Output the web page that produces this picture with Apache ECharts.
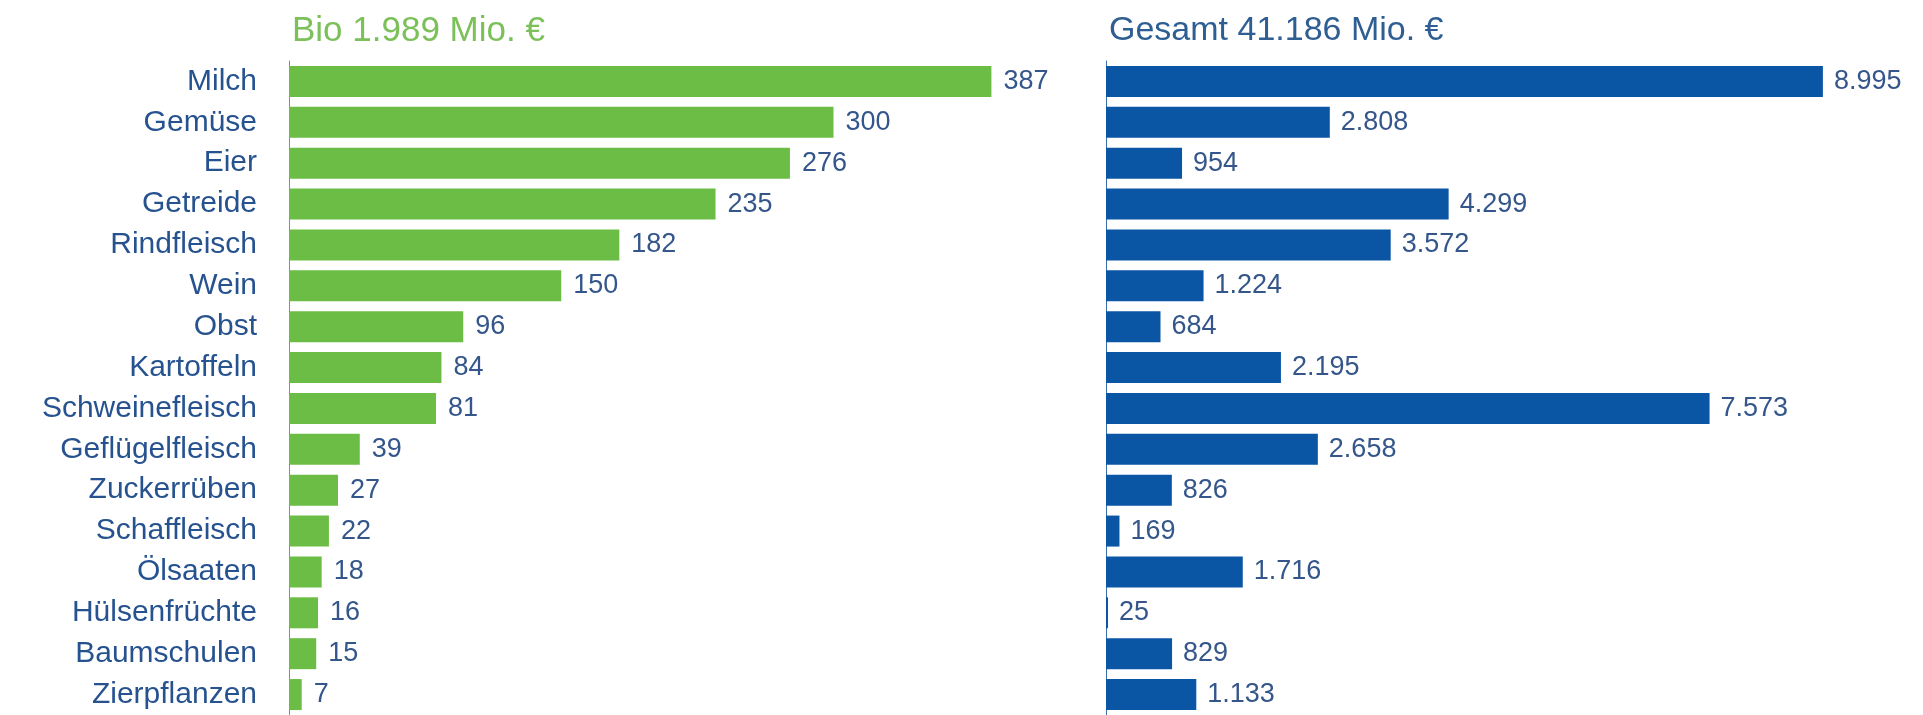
<!DOCTYPE html>
<html>
<head>
<meta charset="utf-8">
<script src="https://cdn.jsdelivr.net/npm/echarts@6/dist/echarts.min.js"></script>
<style>
html,body{margin:0;padding:0;background:#fff;}
#main{width:1923px;height:715px;}
</style>
</head>
<body>
<div id="main"></div>
<script>
const categories = ["Milch","Gemüse","Eier","Getreide","Rindfleisch","Wein","Obst","Kartoffeln","Schweinefleisch","Geflügelfleisch","Zuckerrüben","Schaffleisch","Ölsaaten","Hülsenfrüchte","Baumschulen","Zierpflanzen"];
const bioValues = [387,300,276,235,182,150,96,84,81,39,27,22,18,16,15,7];
const gesamtValues = [8995,2808,954,4299,3572,1224,684,2195,7573,2658,826,169,1716,25,829,1133];
const titleBio = "Bio 1.989 Mio. €";
const titleGesamt = "Gesamt 41.186 Mio. €";

const FONT = "'Liberation Sans', Arial, sans-serif";
const fmt = v => String(v).replace(/\B(?=(\d{3})+(?!\d))/g, '.');

const chart = echarts.init(document.getElementById('main'));
chart.setOption({
  animation: false,
  backgroundColor: '#ffffff',
  title: [
    {text: titleBio, left: 287, top: 9, textStyle:{color:'#7cc05a', fontSize:35, fontWeight:'normal', fontFamily:FONT}},
    {text: titleGesamt, left: 1104, top: 9, textStyle:{color:'#2e5e92', fontSize:34, fontWeight:'normal', fontFamily:FONT}}
  ],
  grid: [
    {left: 289, top: 61, width: 726, height: 656},
    {left: 1106, top: 61, width: 797, height: 656}
  ],
  xAxis: [
    {gridIndex:0, type:'value', min:0, max:400, show:false},
    {gridIndex:1, type:'value', min:0, max:10000, show:false}
  ],
  yAxis: [
    {gridIndex:0, type:'category', data:categories, inverse:true,
     axisTick:{show:false}, axisLine:{show:true, lineStyle:{color:'#8a8f7a', width:1}},
     axisLabel:{color:'#26528f', fontSize:30, fontFamily:FONT, margin:32}},
    {gridIndex:1, type:'category', data:categories, inverse:true,
     axisTick:{show:false}, axisLine:{show:true, lineStyle:{color:'#3a6ea8', width:1}},
     axisLabel:{show:false}}
  ],
  series: [
    {type:'bar', xAxisIndex:0, yAxisIndex:0, data:bioValues, barWidth:31,
     itemStyle:{color:'#6cbd45'},
     label:{show:true, position:'right', distance:12, color:'#34568a', fontSize:27, fontFamily:FONT, formatter:p=>fmt(p.value)}},
    {type:'bar', xAxisIndex:1, yAxisIndex:1, data:gesamtValues, barWidth:31,
     itemStyle:{color:'#0b56a4'},
     label:{show:true, position:'right', distance:11, color:'#34568a', fontSize:27, fontFamily:FONT, formatter:p=>fmt(p.value)}}
  ]
});
</script>
</body>
</html>
